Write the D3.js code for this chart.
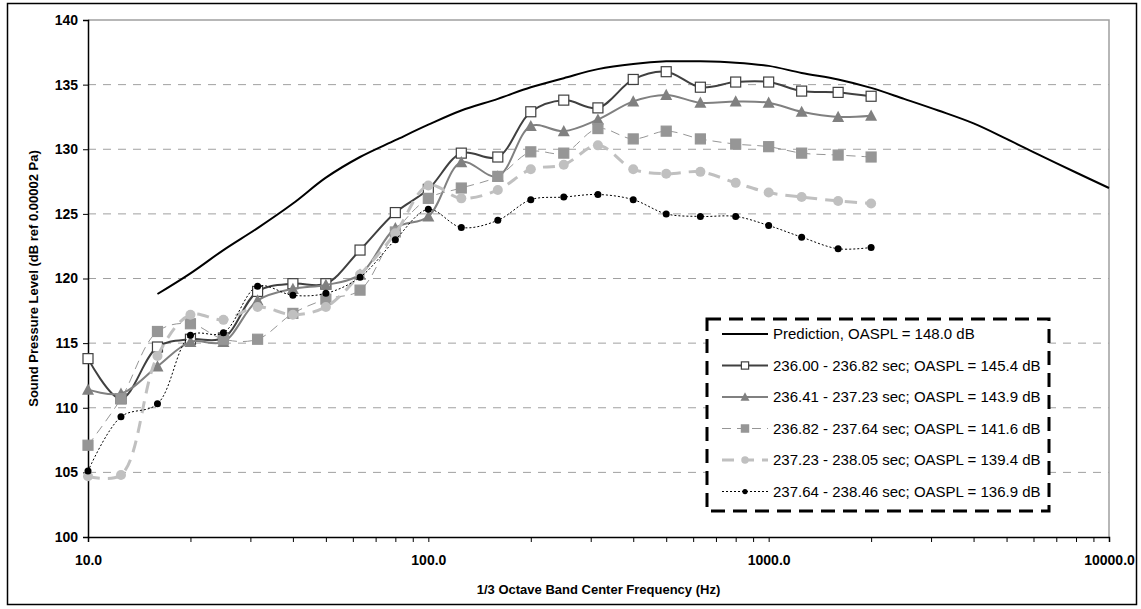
<!DOCTYPE html>
<html>
<head>
<meta charset="utf-8">
<script src="https://cdn.jsdelivr.net/npm/d3@7"></script>
<style>
  body { margin: 0; background: #fff; }
  svg { display: block; font-family: "Liberation Sans", Arial, sans-serif; }
</style>
</head>
<body>
<svg id="chart" width="1141" height="609"></svg>
<script>
// 1/3 octave band centres (Hz)
var freqs = [10, 12.5, 16, 20, 25, 31.5, 40, 50, 63, 80, 100, 125, 160, 200, 250, 315, 400, 500, 630, 800, 1000, 1250, 1600, 2000];
var predFreqs = [16, 20, 25, 31.5, 40, 50, 63, 80, 100, 125, 160, 200, 250, 315, 400, 500, 630, 800, 1000, 1250, 1600, 2000, 2500, 3150, 4000, 5000, 6300, 8000, 10000];
var predValues = [118.8, 120.4, 122.2, 123.9, 125.8, 127.8, 129.4, 130.7, 131.9, 133.0, 133.9, 134.8, 135.5, 136.2, 136.6, 136.8, 136.8, 136.7, 136.45, 135.9, 135.4, 134.75, 133.9, 133.0, 132.0, 130.8, 129.5, 128.2, 127.0];
var s1Values = [113.8, 110.7, 114.7, 115.3, 115.4, 119.0, 119.6, 119.6, 122.2, 125.1, 126.9, 129.7, 129.4, 132.9, 133.8, 133.2, 135.4, 136.0, 134.8, 135.2, 135.2, 134.5, 134.4, 134.1];
var s2Values = [111.4, 111.1, 113.2, 115.1, 115.1, 118.3, 119.2, 119.5, 120.3, 123.9, 124.8, 129.0, 127.9, 131.8, 131.4, 132.3, 133.7, 134.2, 133.6, 133.7, 133.6, 132.9, 132.5, 132.6];
var s3Values = [107.1, 110.7, 115.9, 116.5, 115.3, 115.3, 117.3, 118.4, 119.1, 123.6, 126.2, 127.0, 127.9, 129.8, 129.7, 131.6, 130.8, 131.4, 130.8, 130.4, 130.2, 129.7, 129.55, 129.4];
var s4Values = [104.7, 104.8, 114.0, 117.2, 116.8, 117.8, 117.2, 117.8, 120.3, 123.5, 127.2, 126.2, 126.85, 128.45, 128.8, 130.3, 128.45, 128.1, 128.25, 127.4, 126.65, 126.3, 126.0, 125.8];
var s5Values = [105.1, 109.3, 110.3, 115.6, 115.8, 119.4, 118.7, 118.85, 120.1, 123.0, 125.35, 123.95, 124.5, 126.1, 126.3, 126.5, 126.1, 125.0, 124.8, 124.8, 124.1, 123.2, 122.3, 122.4];

var seriesNames = [
	"Prediction, OASPL = 148.0 dB",
	"236.00 - 236.82 sec; OASPL = 145.4 dB",
	"236.41 - 237.23 sec; OASPL = 143.9 dB",
	"236.82 - 237.64 sec; OASPL = 141.6 dB",
	"237.23 - 238.05 sec; OASPL = 139.4 dB",
	"237.64 - 238.46 sec; OASPL = 136.9 dB"
];
var xTicks = [10, 100, 1000, 10000];
var yTicks = [100, 105, 110, 115, 120, 125, 130, 135, 140];

var svg = d3.select("#chart");
var padL = 88, padR = 1109, padT = 20, padB = 537;

var x = d3.scaleLog().domain([10, 10000]).range([padL, padR]);
var y = d3.scaleLinear().domain([100, 140]).range([padB, padT]);

// outer frame
svg.append("rect")
	.attr("x", 7.5).attr("y", 3.5)
	.attr("width", 1129).attr("height", 601)
	.attr("fill", "none").attr("stroke", "#000").attr("stroke-width", 1.5);

// gridlines
svg.append("g")
	.selectAll("line")
	.data(yTicks.filter(d => d > 100 && d < 140))
	.enter().append("line")
	.attr("x1", padL).attr("x2", padR)
	.attr("y1", d => y(d)).attr("y2", d => y(d))
	.attr("stroke", "#a0a0a0").attr("stroke-dasharray", "8,7");

// plot area border (top, right)
svg.append("path")
	.attr("d", `M${padL},${padT}H${padR}V${padB}`)
	.attr("fill", "none").attr("stroke", "#a0a0a0").attr("stroke-width", 1.5);

// axes
var xAxis = d3.axisBottom(x)
	.tickValues(d3.range(1, 4).flatMap(e => d3.range(1, 10).map(m => m * Math.pow(10, e))).concat([10000]))
	.tickSize(5)
	.tickFormat(d => xTicks.includes(d) ? d.toFixed(1) : "");
var gx = svg.append("g").attr("transform", `translate(0,${padB})`).call(xAxis);
gx.select(".domain").attr("stroke-width", 1.5);
gx.selectAll("text").attr("font-size", 14).attr("font-weight", "bold").attr("dy", "1.4em").attr("fill", "#000");

var yAxis = d3.axisLeft(y).tickValues(yTicks).tickSize(5).tickFormat(d3.format("d"));
var gy = svg.append("g").attr("transform", `translate(${padL},0)`).call(yAxis);
gy.select(".domain").attr("stroke-width", 1.5);
gy.selectAll("text").attr("font-size", 14).attr("font-weight", "bold").attr("x", -10).attr("fill", "#000");

// axis titles
svg.append("text")
	.attr("x", (padL + padR) / 2).attr("y", 594)
	.attr("text-anchor", "middle").attr("font-size", 13).attr("font-weight", "bold")
	.text("1/3 Octave Band Center Frequency (Hz)");
svg.append("text")
	.attr("transform", `translate(38,${(padT + padB) / 2}) rotate(-90)`)
	.attr("text-anchor", "middle").attr("font-size", 13).attr("font-weight", "bold")
	.text("Sound Pressure Level (dB ref 0.00002 Pa)");

var line = d3.line()
	.x(d => x(d[0])).y(d => y(d[1]))
	.curve(d3.curveCatmullRom.alpha(0.5));

var styles = [
	{ stroke: "#000", width: 2, dash: null, marker: null },
	{ stroke: "#404040", width: 2, dash: null, marker: "square", fill: "#fff", mstroke: "#404040", size: 11 },
	{ stroke: "#808080", width: 2, dash: null, marker: "triangle", fill: "#808080", mstroke: "#808080", size: 12 },
	{ stroke: "#969696", width: 1, dash: "9,6", marker: "square", fill: "#969696", mstroke: "#969696", size: 11 },
	{ stroke: "#c0c0c0", width: 3, dash: "12,8", marker: "circle", fill: "#c0c0c0", mstroke: "#c0c0c0", size: 10 },
	{ stroke: "#000", width: 1, dash: "2,2", marker: "circle", fill: "#000", mstroke: "#000", size: 7 }
];

var series = [
	d3.zip(predFreqs, predValues),
	d3.zip(freqs, s1Values),
	d3.zip(freqs, s2Values),
	d3.zip(freqs, s3Values),
	d3.zip(freqs, s4Values),
	d3.zip(freqs, s5Values)
];

function drawMarker(g, st, cx, cy) {
	var s = st.size;
	if (st.marker === "square") {
		g.append("rect")
			.attr("x", cx - s / 2 + 0.5).attr("y", cy - s / 2 + 0.5)
			.attr("width", s - 1).attr("height", s - 1)
			.attr("fill", st.fill).attr("stroke", st.mstroke).attr("stroke-width", 1.2);
	} else if (st.marker === "triangle") {
		var h = s * 0.85;
		g.append("path")
			.attr("d", `M${cx},${cy - h / 2 - 1}L${cx + s / 2},${cy + h / 2}L${cx - s / 2},${cy + h / 2}Z`)
			.attr("fill", st.fill);
	} else if (st.marker === "circle") {
		g.append("circle").attr("cx", cx).attr("cy", cy).attr("r", s / 2).attr("fill", st.fill);
	}
}

series.forEach(function(data, i) {
	var st = styles[i];
	var g = svg.append("g");
	g.append("path")
		.datum(data)
		.attr("d", line)
		.attr("fill", "none")
		.attr("stroke", st.stroke)
		.attr("stroke-width", st.width)
		.attr("stroke-dasharray", st.dash);
	if (st.marker) {
		data.forEach(d => drawMarker(g, st, x(d[0]), y(d[1])));
	}
});

// legend
var lg = svg.append("g");
lg.append("rect")
	.attr("x", 707).attr("y", 319)
	.attr("width", 342).attr("height", 192)
	.attr("fill", "#fff").attr("stroke", "#000")
	.attr("stroke-width", 3).attr("stroke-dasharray", "14,8");

seriesNames.forEach(function(name, i) {
	var st = styles[i];
	var yy = 334 + i * 31.5;
	lg.append("line")
		.attr("x1", 722).attr("x2", 768).attr("y1", yy).attr("y2", yy)
		.attr("stroke", st.stroke).attr("stroke-width", st.width)
		.attr("stroke-dasharray", st.dash);
	if (st.marker) drawMarker(lg, Object.assign({}, st, { size: st.size * 0.75 }), 745, yy);
	lg.append("text")
		.attr("x", 773).attr("y", yy).attr("dy", "0.36em")
		.attr("font-size", 15)
		.text(name);
});
</script>
</body>
</html>
